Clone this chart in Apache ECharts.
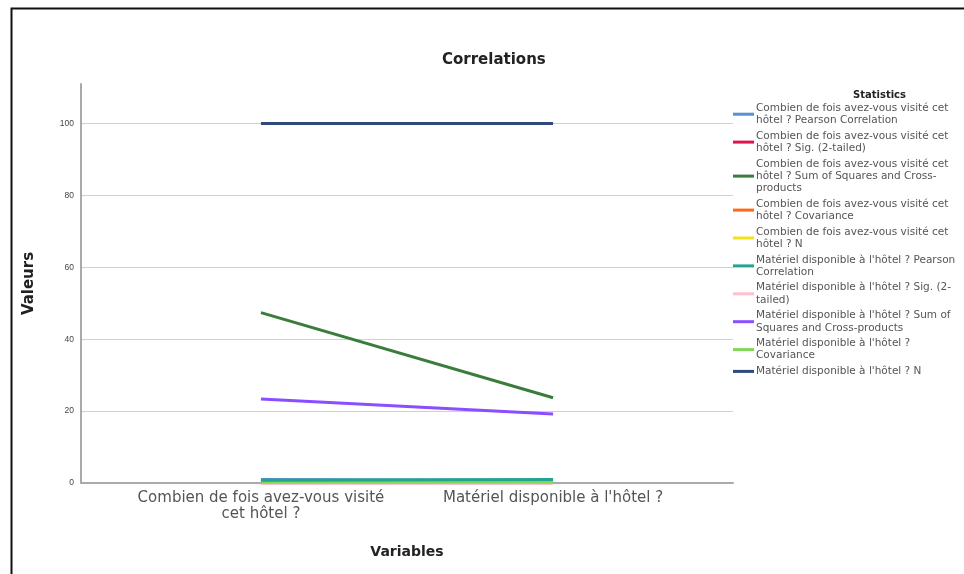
<!DOCTYPE html>
<html><head><meta charset="utf-8">
<script src="https://cdn.jsdelivr.net/npm/echarts@6/dist/echarts.min.js"></script>
<style>html,body{margin:0;padding:0;background:#fff}#c{width:964px;height:574px}</style>
</head><body><div id="c"></div>
<script>
const categories = ["Combien de fois avez-vous visité\ncet hôtel ?", "Matériel disponible à l'hôtel ?"];
const yTicks = [0, 20, 40, 60, 80, 100];
const seriesNames = [
  "Combien de fois avez-vous visité cet\nhôtel ? Pearson Correlation",
  "Combien de fois avez-vous visité cet\nhôtel ? Sig. (2-tailed)",
  "Combien de fois avez-vous visité cet\nhôtel ? Sum of Squares and Cross-\nproducts",
  "Combien de fois avez-vous visité cet\nhôtel ? Covariance",
  "Combien de fois avez-vous visité cet\nhôtel ? N",
  "Matériel disponible à l'hôtel ? Pearson\nCorrelation",
  "Matériel disponible à l'hôtel ? Sig. (2-\ntailed)",
  "Matériel disponible à l'hôtel ? Sum of\nSquares and Cross-products",
  "Matériel disponible à l'hôtel ?\nCovariance",
  "Matériel disponible à l'hôtel ? N"
];
const combienPearson = [1, 0.79];
const combienSig = [0, 0];
const combienSSCP = [47.4, 23.7];
const combienCov = [0.48, 0.24];
const combienN = [100, 100];
const materielPearson = [0.79, 1];
const materielSig = [0, 0];
const materielSSCP = [23.4, 19.2];
const materielCov = [0.24, 0.19];
const materielN = [100, 100];
const seriesValues = [combienPearson, combienSig, combienSSCP, combienCov, combienN,
  materielPearson, materielSig, materielSSCP, materielCov, materielN];
const colors = ["#5b8fd0", "#e0134a", "#3a7d3a", "#ff6a1a", "#f2e21a",
  "#24a394", "#ffbfcf", "#8a4dff", "#7ed957", "#2e4a7a"];

const F = 'DejaVu Sans';
const chart = echarts.init(document.getElementById('c'));
chart.setOption({
  animation: false,
  graphic: [{type:'rect', left: 9, top: 6, shape:{width: 1000, height: 600},
    style:{fill:'none', stroke:'#111', lineWidth: 2}, silent: true}],
  title: [
    {text: 'Correlations', left: 437, top: 48,
     textStyle: {fontFamily: F, fontSize: 15, fontWeight: 'bold', color: '#222'}},
    {text: 'Statistics', left: 848, top: 85,
     textStyle: {fontFamily: F, fontSize: 10, fontWeight: 'bold', color: '#222'}}
  ],
  grid: {left: 81, right: 231, top: 84, bottom: 91},
  legend: {
    orient: 'vertical', left: 733, top: 102, itemGap: 3.5, padding: 0,
    itemWidth: 21, itemHeight: 3, icon: 'rect',
    textStyle: {fontFamily: F, fontSize: 10.5, color: '#555', lineHeight: 12.2, padding: [0,0,0,-3]},
    data: seriesNames
  },
  xAxis: {
    type: 'value', min: -0.616, max: 1.616,
    name: 'Variables', nameLocation: 'middle', nameGap: 62,
    nameTextStyle: {fontFamily: F, fontSize: 14, fontWeight: 'bold', color: '#222'},
    axisLine: {show: true, onZero: false, lineStyle: {color: '#aaa', width: 2}},
    axisTick: {show: false},
    splitLine: {show: false},
    axisLabel: {customValues: [0, 1], formatter: v => categories[Math.round(v)],
      fontFamily: F, fontSize: 15, color: '#555', lineHeight: 16, margin: 7}
  },
  yAxis: {
    type: 'value', min: 0, max: 111, interval: 20,
    name: 'Valeurs', nameLocation: 'middle', nameGap: 44, nameRotate: 90,
    nameTextStyle: {fontFamily: F, fontSize: 15, fontWeight: 'bold', color: '#222'},
    axisLine: {show: true, onZero: false, lineStyle: {color: '#aaa', width: 2}},
    axisTick: {show: false},
    splitLine: {show: true, showMaxLine: false, showMinLine: false, lineStyle: {color: '#d0d0d0', width: 1}},
    axisLabel: {customValues: yTicks, fontFamily: 'Liberation Sans', fontSize: 8.5, color: '#444', margin: 7}
  },
  series: seriesNames.map((n, i) => ({
    name: n, type: 'line', symbol: 'none', color: colors[i],
    lineStyle: {width: 3, color: colors[i]},
    data: seriesValues[i].map((v, j) => [j, v]),
    z: 2 + (i === 5 ? 20 : i)
  }))
});
</script></body></html>
